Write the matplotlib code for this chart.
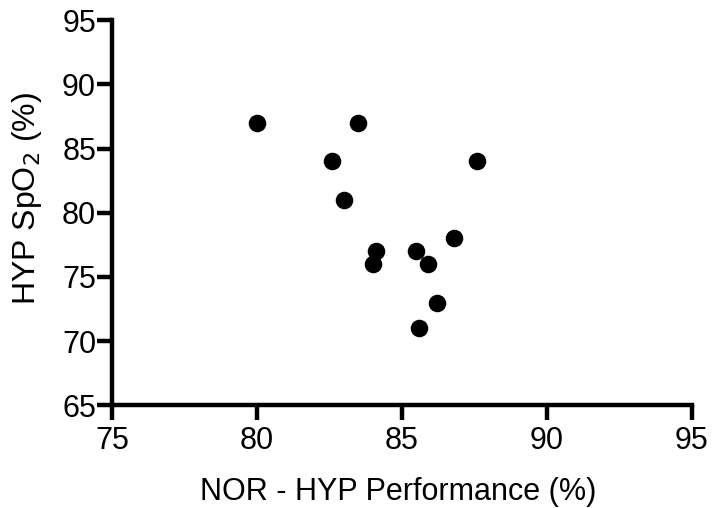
import matplotlib
matplotlib.use("Agg")
from matplotlib import pyplot as plt

# NOR - HYP performance (%) vs HYP SpO2 (%)
performance = [80.0, 83.5, 82.6, 87.6, 83.0, 86.8, 84.1, 84.0, 85.5, 85.9, 86.2, 85.6]
spo2 = [87, 87, 84, 84, 81, 78, 77, 76, 77, 76, 73, 71]

x_ticks = [75, 80, 85, 90, 95]
y_ticks = [65, 70, 75, 80, 85, 90, 95]

plt.rcParams['font.family'] = ['Liberation Sans', 'DejaVu Sans']

fig = plt.figure(figsize=(7.12, 5.08), dpi=100)
ax = fig.add_axes([0.1573, 0.2018, 0.8146, 0.7588])

ax.scatter(performance, spo2, s=135, color='black', zorder=3, clip_on=False)

ax.set_xlim(75, 95)
ax.set_ylim(65, 95)
ax.set_xticks(x_ticks)
ax.set_yticks(y_ticks)

for side in ['top', 'right']:
    ax.spines[side].set_visible(False)
for side in ['left', 'bottom']:
    ax.spines[side].set_linewidth(3.2)
    ax.spines[side].set_capstyle('projecting')

ax.tick_params(axis='both', width=3.2, length=10.5, labelsize=22, direction='out')
ax.tick_params(axis='x', pad=4)
ax.tick_params(axis='y', pad=1)

ax.set_xlabel('NOR - HYP Performance (%)', fontsize=22)
ax.set_ylabel('HYP SpO$_2$ (%)', fontsize=23)
ax.xaxis.set_label_coords(0.494, -0.185)
ax.yaxis.set_label_coords(-0.117, 0.536)

fig.savefig('out.png', dpi=100)
